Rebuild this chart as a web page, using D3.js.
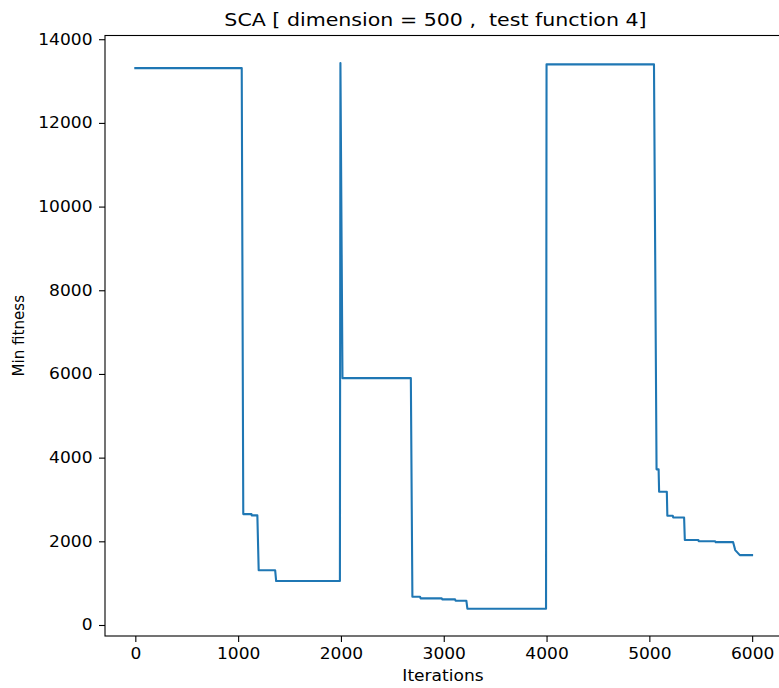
<!DOCTYPE html>
<html>
<head>
<meta charset="utf-8">
<script src="https://cdn.jsdelivr.net/npm/d3@7"></script>
<style>
  html, body { margin: 0; padding: 0; background: #fff; }
  svg { display: block; }
  text { font-family: "DejaVu Sans", sans-serif; fill: #000; }
</style>
</head>
<body>
<svg id="chart" width="779" height="688"></svg>
<script>
const iterations = [0, 1035, 1050, 1130, 1132, 1187, 1200, 1360, 1370, 1990, 1995, 2015, 2680, 2695, 2770, 2775, 2980, 2985, 3110, 3115, 3220, 3230, 3995, 4000, 5045, 5070, 5090, 5095, 5170, 5175, 5228, 5232, 5338, 5345, 5477, 5480, 5640, 5645, 5815, 5835, 5880, 5999];
const minFitness = [13310, 13310, 2650, 2650, 2620, 2620, 1310, 1310, 1050, 1050, 13430, 5900, 5900, 676, 676, 637, 637, 613, 613, 580, 580, 390, 390, 13400, 13400, 3720, 3720, 3185, 3185, 2610, 2610, 2570, 2570, 2030, 2030, 2000, 2000, 1980, 1980, 1790, 1670, 1670];
const xTicks = [0, 1000, 2000, 3000, 4000, 5000, 6000];
const yTicks = [0, 2000, 4000, 6000, 8000, 10000, 12000, 14000];
const titleText = "SCA [ dimension = 500 ,\u00a0\u00a0test function 4]";
const xLabel = "Iterations";
const yLabel = "Min fitness";

const svg = d3.select("#chart");
const mLeft = 105, mRight = 783, mTop = 35.5, mBottom = 636;
const stretch = 1.13;

function widen(sel) {
  sel.each(function () {
    const w = this.getComputedTextLength();
    d3.select(this).attr("textLength", w * stretch).attr("lengthAdjust", "spacingAndGlyphs");
  });
}

const x = d3.scaleLinear().domain([-295, 6300]).range([mLeft, mRight]);
const y = d3.scaleLinear().domain([-263, 14089]).range([mBottom, mTop]);

const data = iterations.map((d, i) => ({ it: d, f: minFitness[i] }));

svg.append("path")
  .datum(data)
  .attr("fill", "none")
  .attr("stroke", "#1f77b4")
  .attr("stroke-width", 2.1)
  .attr("stroke-linejoin", "round")
  .attr("stroke-linecap", "square")
  .attr("d", d3.line().x(d => x(d.it)).y(d => y(d.f)));

// spines
svg.append("rect")
  .attr("x", mLeft).attr("y", mTop)
  .attr("width", mRight - mLeft).attr("height", mBottom - mTop)
  .attr("fill", "none").attr("stroke", "#000").attr("stroke-width", 1.1);

const xAxis = d3.axisBottom(x).tickValues(xTicks).tickSize(6).tickPadding(6).tickFormat(d3.format("d"));
const gx = svg.append("g").attr("transform", `translate(0,${mBottom})`).call(xAxis);
gx.select(".domain").remove();
gx.selectAll("line").attr("stroke-width", 1.1);
gx.selectAll("text").style("font-size", "15.1px").style("font-family", "DejaVu Sans").call(widen);

const yAxis = d3.axisLeft(y).tickValues(yTicks).tickSize(6).tickPadding(6.5).tickFormat(d3.format("d"));
const gy = svg.append("g").attr("transform", `translate(${mLeft},0)`).call(yAxis);
gy.select(".domain").remove();
gy.selectAll("line").attr("stroke-width", 1.1);
gy.selectAll("text").style("font-size", "15.1px").style("font-family", "DejaVu Sans").call(widen);

svg.append("text")
  .attr("x", 435.5).attr("y", 26)
  .attr("text-anchor", "middle")
  .style("font-size", "18.2px")
  .text(titleText)
  .call(widen);

svg.append("text")
  .attr("x", 443).attr("y", 681)
  .attr("text-anchor", "middle")
  .style("font-size", "15.1px")
  .text(xLabel)
  .call(widen);

svg.append("text")
  .attr("transform", `translate(24,${(mTop + mBottom) / 2}) rotate(-90)`)
  .attr("text-anchor", "middle")
  .style("font-size", "15.1px")
  .text(yLabel);
</script>
</body>
</html>
